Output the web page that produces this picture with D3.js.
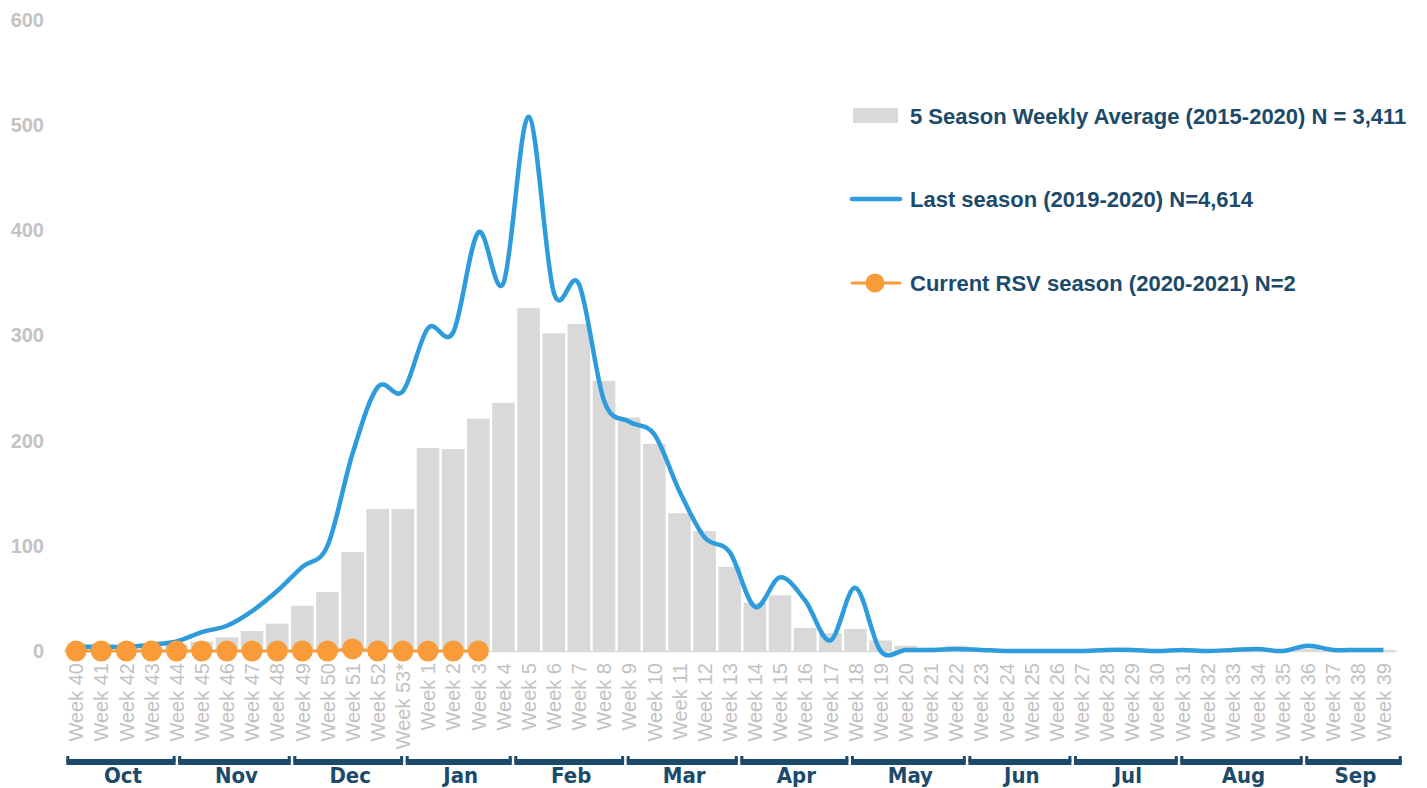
<!DOCTYPE html>
<html>
<head>
<meta charset="utf-8">
<script src="https://cdnjs.cloudflare.com/ajax/libs/d3/7.8.5/d3.min.js"></script>
<style>
	body { margin: 0; background: #fff; }
	svg { display: block; }
	.ylab text { font-family: "Liberation Sans", Arial, sans-serif; font-weight: bold; font-size: 20px; fill: #c3c3c3; }
	.xlab text { font-family: "Liberation Sans", Arial, sans-serif; font-size: 20px; fill: #c2c2c2; }
	.legend text { font-family: "Liberation Sans", Arial, sans-serif; font-weight: bold; font-size: 22px; fill: #1b4a6b; }
	.month { font-family: "Liberation Sans Narrow", "DejaVu Sans Condensed", "Arial Narrow", sans-serif; font-weight: bold; font-size: 22px; fill: #1b4a6b; }
</style>
</head>
<body>
<div id="chart"></div>
<script>
// week categories, Oct (week 40) to Sep (week 39)
var weekLabels = ["Week 40", "Week 41", "Week 42", "Week 43", "Week 44", "Week 45", "Week 46", "Week 47", "Week 48",
	"Week 49", "Week 50", "Week 51", "Week 52", "Week 53*", "Week 1", "Week 2", "Week 3", "Week 4", "Week 5",
	"Week 6", "Week 7", "Week 8", "Week 9", "Week 10", "Week 11", "Week 12", "Week 13", "Week 14", "Week 15",
	"Week 16", "Week 17", "Week 18", "Week 19", "Week 20", "Week 21", "Week 22", "Week 23", "Week 24", "Week 25",
	"Week 26", "Week 27", "Week 28", "Week 29", "Week 30", "Week 31", "Week 32", "Week 33", "Week 34", "Week 35",
	"Week 36", "Week 37", "Week 38", "Week 39"];

// 5 season weekly average (2015-2020)
var avgValues = [2, 2, 3, 4, 6, 9, 13, 19, 26, 43, 56, 94, 135, 135, 193, 192, 221, 236, 326,
	302, 311, 257, 222, 197, 131, 114, 80, 46, 53, 22, 17, 21, 10, 5, 3, 5, 2, 1, 1,
	1, 1, 1, 1, 1, 1, 1, 1, 1, 1, 2, 2, 1, 1];

// last season (2019-2020)
var lastSeasonValues = [4, 4, 4, 6, 9, 18, 24, 38, 57, 80, 100, 188, 251, 247, 307, 303, 398, 350, 508,
	341, 349, 238, 218, 206, 152, 108, 94, 42, 70, 48, 10, 60, 0, 1, 1, 2, 1, 0, 0,
	0, 0, 1, 1, 0, 1, 0, 1, 2, 0, 5, 1, 1, 1];

// current season (2020-2021), reported so far (week 40 to week 3)
var currentValues = [0, 0, 0, 0, 0, 0, 0, 0, 0, 0, 0, 2, 0, 0, 0, 0, 0];

var yTicks = [0, 100, 200, 300, 400, 500, 600];

var months = ["Oct", "Nov", "Dec", "Jan", "Feb", "Mar", "Apr", "May", "Jun", "Jul", "Aug", "Sep"];
// bracket edges, in week units from the left of the axis
var monthEdges = [0.06, 4.51, 9.09, 13.56, 17.88, 22.35, 26.87, 31.27, 35.94, 40.14, 44.37, 49.34, 53.28];

var legendLabels = ["5 Season Weekly Average (2015-2020) N = 3,411", "Last season (2019-2020) N=4,614", "Current RSV season (2020-2021) N=2"];

var width = 1427,
	height = 788;
var colors = {
	bar: "#d9d9d9",
	last: "#2e9bdb",
	current: "#f99b38",
	navy: "#1b4a6b"
};

var svg = d3.select("#chart").append("svg")
	.attr("width", width)
	.attr("height", height);

var x = d3.scaleBand()
	.domain(weekLabels)
	.range([63.5, 1396])
	.paddingInner(0.1)
	.paddingOuter(0.05);

var y = d3.scaleLinear()
	.domain([0, 600])
	.range([651, 20]);

// linear map from week units to pixels, for the month brackets
var xWeek = d3.scaleLinear()
	.domain([0, weekLabels.length])
	.range(x.range());

function cx(i) {
	return x(weekLabels[i]) + x.bandwidth() / 2;
}

// y axis labels only
var yAxis = svg.append("g")
	.attr("class", "ylab")
	.attr("transform", "translate(47,0)")
	.call(d3.axisLeft(y).tickValues(yTicks).tickSize(0).tickPadding(3));
yAxis.select(".domain").remove();

// bars
svg.append("g").selectAll("rect")
	.data(avgValues)
	.enter()
	.append("rect")
	.attr("x", function(d, i) {
		return x(weekLabels[i]);
	})
	.attr("width", x.bandwidth())
	.attr("y", function(d) {
		return y(d);
	})
	.attr("height", function(d) {
		return y(0) - y(d);
	})
	.attr("fill", colors.bar);

// x axis
var xAxis = svg.append("g")
	.attr("class", "xlab")
	.attr("transform", "translate(0," + y(0) + ")")
	.call(d3.axisBottom(x).tickSize(0));
xAxis.select(".domain")
	.attr("stroke", "#d9d9d9")
	.attr("stroke-width", 1.5);
xAxis.selectAll("text")
	.attr("transform", "rotate(-90)")
	.attr("x", -12)
	.attr("y", 0)
	.attr("dy", "0.36em")
	.style("text-anchor", "end");

// last season smoothed line
var lastLine = d3.line()
	.x(function(d, i) {
		return cx(i);
	})
	.y(function(d) {
		return y(d);
	})
	.curve(d3.curveCardinal.tension(0));

svg.append("path")
	.datum(lastSeasonValues)
	.attr("d", lastLine)
	.attr("fill", "none")
	.attr("stroke", colors.last)
	.attr("stroke-width", 4.5)
	.attr("stroke-linejoin", "round");

// current season
var curLine = d3.line()
	.x(function(d, i) {
		return cx(i);
	})
	.y(function(d) {
		return y(d);
	});

svg.append("path")
	.datum(currentValues)
	.attr("d", curLine)
	.attr("fill", "none")
	.attr("stroke", colors.current)
	.attr("stroke-width", 3);

svg.append("g").selectAll("circle")
	.data(currentValues)
	.enter()
	.append("circle")
	.attr("cx", function(d, i) {
		return cx(i);
	})
	.attr("cy", function(d) {
		return y(d);
	})
	.attr("r", 10.5)
	.attr("fill", colors.current);

// month brackets
var brackets = svg.append("g").attr("fill", colors.navy);
months.forEach(function(m, i) {
	var x0 = xWeek(monthEdges[i]) + 1.3,
		x1 = xWeek(monthEdges[i + 1]) - 1.3;
	brackets.append("rect")
		.attr("x", x0)
		.attr("y", 759)
		.attr("width", x1 - x0)
		.attr("height", 6);
	brackets.append("rect")
		.attr("x", x0)
		.attr("y", 756)
		.attr("width", 3)
		.attr("height", 6);
	brackets.append("rect")
		.attr("x", x1 - 3)
		.attr("y", 756)
		.attr("width", 3)
		.attr("height", 6);
	brackets.append("text")
		.attr("class", "month")
		.attr("x", (x0 + x1) / 2 + 2)
		.attr("y", 783)
		.attr("text-anchor", "middle")
		.text(m);
});

// legend
var legend = svg.append("g").attr("class", "legend");
var legendY = [116, 199, 283];
legendLabels.forEach(function(label, i) {
	var g = legend.append("g").attr("transform", "translate(852," + legendY[i] + ")");
	if (i === 0) {
		g.append("rect")
			.attr("x", 1)
			.attr("y", -8)
			.attr("width", 45)
			.attr("height", 15)
			.attr("fill", colors.bar);
	} else {
		g.append("line")
			.attr("x1", 0)
			.attr("x2", 48)
			.attr("stroke", i === 1 ? colors.last : colors.current)
			.attr("stroke-width", i === 1 ? 4.5 : 3)
			.attr("stroke-linecap", "round");
		if (i === 2) {
			g.append("circle")
				.attr("cx", 23)
				.attr("r", 9.5)
				.attr("fill", colors.current);
		}
	}
	g.append("text")
		.attr("x", 58)
		.attr("dy", "0.36em")
		.text(label);
});
</script>
</body>
</html>
